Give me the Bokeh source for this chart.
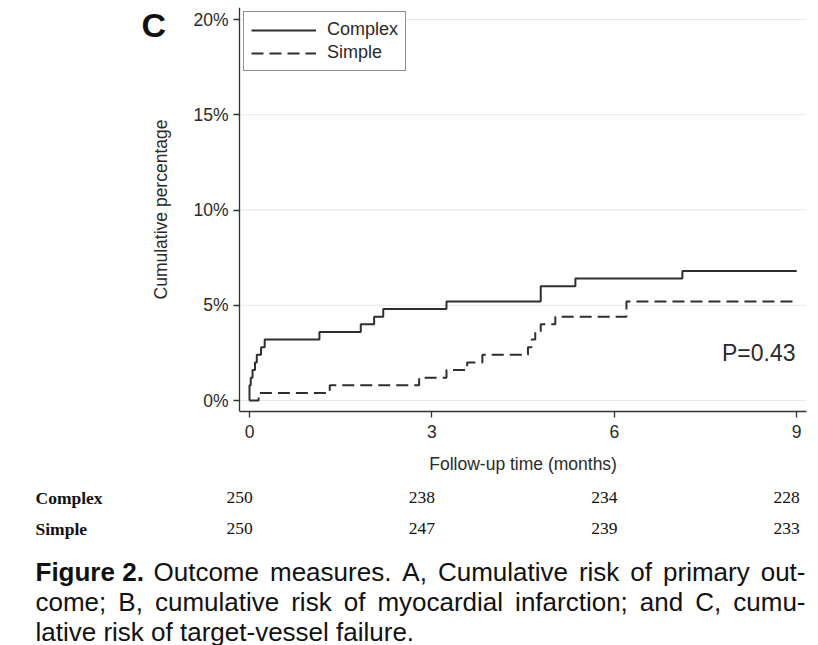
from bokeh.plotting import figure
from bokeh.models import Range1d, FixedTicker, Label, Legend, LegendItem, ColumnDataSource
from bokeh.layouts import column
from bokeh.embed import file_html
from bokeh.resources import INLINE
from bokeh.core.properties import value

# ---------------- data ----------------
complex_t = [0, 0, 0.02, 0.05, 0.09, 0.12, 0.19, 0.25, 1.15, 1.83, 2.05, 2.2, 3.24, 4.79, 5.36, 7.12, 9.0]
complex_y = [0, 0.8, 1.2, 1.6, 2.0, 2.4, 2.8, 3.2, 3.6, 4.0, 4.4, 4.8, 5.2, 6.0, 6.4, 6.8, 6.8]
simple_t = [0, 0.15, 1.32, 2.79, 3.24, 3.58, 3.83, 4.58, 4.64, 4.70, 4.79, 5.03, 6.2, 9.0]
simple_y = [0, 0.4, 0.8, 1.2, 1.6, 2.0, 2.4, 2.8, 3.2, 3.6, 4.0, 4.4, 5.2, 5.2]

x_ticks = [0, 3, 6, 9]
y_ticks = [0, 5, 10, 15, 20]
y_tick_labels = ["0%", "5%", "10%", "15%", "20%"]
x_title = "Follow-up time (months)"
y_title = "Cumulative percentage"

groups = ["Complex", "Simple"]
risk_times = [0, 3, 6, 9]
complex_at_risk = [250, 238, 234, 228]
simple_at_risk = [250, 247, 239, 233]

p_value_text = "P=0.43"
panel_letter = "C"
caption_bold = "Figure 2."
caption_lines = [
    "Outcome measures. A, Cumulative risk of primary out-",
    "come; B, cumulative risk of myocardial infarction; and C, cumu-",
    "lative risk of target-vessel failure.",
]

# ---------------- layout constants (page pixels) ----------------
W = 818
PX_PER_MONTH = 60.8
X0_PX = 249           # page pixel of month 0
PX_PER_PCT = 19.05
Y0_PX = 400           # page pixel of 0%
AXIS_L, FRAME_R, FRAME_T, FRAME_B = 239, 806, 7, 411
FRAME_L = 120         # frame starts left of the y axis so the panel letter fits inside it
H1 = 450

INK = "#2a2a2a"
SANS = "Liberation Sans"

x_start = (FRAME_L - X0_PX) / PX_PER_MONTH
x_axis_start = (AXIS_L - X0_PX) / PX_PER_MONTH
x_end = (FRAME_R - X0_PX) / PX_PER_MONTH
y_start = -(FRAME_B - Y0_PX) / PX_PER_PCT
y_end = (Y0_PX - FRAME_T) / PX_PER_PCT

p = figure(width=W, height=H1, x_range=Range1d(x_start, x_end), y_range=Range1d(y_start, y_end),
           output_backend="svg", toolbar_location=None,
           min_border_left=FRAME_L, min_border_right=W - FRAME_R,
           min_border_top=FRAME_T, min_border_bottom=H1 - FRAME_B)
p.frame_align = False
p.outline_line_color = None
p.background_fill_color = "white"
p.border_fill_color = "white"
p.grid.visible = False

# faint horizontal reference lines at the y ticks, from the y axis to the right edge
n = len(y_ticks)
p.segment(x0=[x_axis_start] * n, x1=[x_end] * n, y0=y_ticks, y1=y_ticks,
          line_color="#e9e9e9", line_width=1, level="underlay")

for ax in (p.xaxis[0], p.yaxis[0]):
    ax.axis_line_color = "#333333"
    ax.axis_line_width = 1.3
    ax.major_tick_line_color = "#333333"
    ax.major_tick_line_width = 1.3
    ax.major_tick_out = 6
    ax.major_tick_in = 0
    ax.minor_tick_line_color = None
    ax.major_label_text_font = SANS
    ax.major_label_text_font_size = "17.5px"
    ax.major_label_text_color = INK
    ax.axis_label_text_font = SANS
    ax.axis_label_text_font_style = "normal"
    ax.axis_label_text_font_size = "17.5px"
    ax.axis_label_text_color = INK

p.xaxis.ticker = FixedTicker(ticks=x_ticks)
p.xaxis.bounds = (x_axis_start, x_end)
p.yaxis.ticker = FixedTicker(ticks=y_ticks)
p.yaxis.fixed_location = x_axis_start
p.yaxis.major_label_overrides = {t: l for t, l in zip(y_ticks, y_tick_labels)}
p.yaxis.axis_label = y_title
p.xaxis.major_label_standoff = 7
p.yaxis.major_label_standoff = 5
p.yaxis.axis_label_standoff = 19

r1 = p.step(complex_t, complex_y, mode="after", line_color="#2e2e2e", line_width=2)
r2 = p.step(simple_t, simple_y, mode="after", line_color="#2e2e2e", line_width=2, line_dash="12 6")

legend = Legend(items=[LegendItem(label=groups[0], renderers=[r1]),
                       LegendItem(label=groups[1], renderers=[r2])],
                location=(243 - FRAME_L, 340))
legend.border_line_color = "#222222"
legend.border_line_width = 1
legend.background_fill_color = "white"
legend.background_fill_alpha = 1
legend.label_text_font = SANS
legend.label_text_font_size = "18px"
legend.label_text_color = INK
legend.glyph_width = 65
legend.glyph_height = 20
legend.label_height = 20
legend.label_standoff = 11
legend.padding = 7
legend.spacing = 2
legend.margin = 0
p.add_layout(legend)

p.add_layout(Label(x=8.98, y=2.5, text=p_value_text, text_align="right", text_baseline="middle",
                   text_font=SANS, text_font_size="23px", text_color=INK))
p.add_layout(Label(x=(141 - X0_PX) / PX_PER_MONTH, y=(Y0_PX - 24) / PX_PER_PCT, text=panel_letter,
                   text_align="left", text_baseline="middle", text_font=SANS,
                   text_font_style="bold", text_font_size="34px", text_color="#111111"))

# ---------------- x title + risk table (same month scale as the plot) ----------------
H2 = 98
p2 = figure(width=W, height=H2, x_range=Range1d(-X0_PX / PX_PER_MONTH, (W - X0_PX) / PX_PER_MONTH),
            y_range=Range1d(H2, 0), output_backend="svg", toolbar_location=None,
            x_axis_type=None, y_axis_type=None, min_border=0)
p2.frame_align = False
p2.outline_line_color = None
p2.grid.visible = False
# x-axis title centred on the plotted time span
p2.text(x=[(x_ticks[0] + x_ticks[-1]) / 2], y=[463 - H1], text=[x_title], text_align="center",
        text_baseline="middle", text_font=value(SANS), text_font_size="17.5px", text_color=INK)
row_y = [497 - H1, 528 - H1]
label_x = (35 - X0_PX) / PX_PER_MONTH
SERIF = "Liberation Serif"
p2.text(x=[label_x, label_x], y=row_y, text=groups, text_align="left", text_baseline="middle",
        text_font=value(SERIF), text_font_style="bold", text_font_size="17.5px", text_color="#111111")
for counts, yy in zip([complex_at_risk, simple_at_risk], row_y):
    src = ColumnDataSource(dict(x=risk_times, y=[yy] * len(risk_times), t=[str(c) for c in counts]))
    p2.text(x="x", y="y", text="t", source=src, x_offset=-10, text_align="center", text_baseline="middle",
            text_font=value(SERIF), text_font_size="17.5px", text_color="#111111")

# ---------------- caption (first two lines justified like the journal layout) ----------------
H3 = 645 - H1 - H2
p3 = figure(width=W, height=H3, x_range=Range1d(0, W), y_range=Range1d(H3, 0),
            output_backend="svg", toolbar_location=None, x_axis_type=None, y_axis_type=None, min_border=0)
p3.frame_align = False
p3.outline_line_color = None
p3.grid.visible = False
CAP_SIZE = 26
ADV = {"a": 556, "b": 556, "c": 500, "d": 556, "e": 556, "f": 278, "g": 556, "h": 556, "i": 222,
       "j": 222, "k": 500, "l": 222, "m": 833, "n": 556, "o": 556, "p": 556, "q": 556, "r": 333,
       "s": 500, "t": 278, "u": 556, "v": 500, "w": 722, "x": 500, "y": 500, "z": 500,
       "A": 667, "B": 667, "C": 722, "O": 778, ".": 278, ",": 278, ";": 278, "-": 333}


def text_width(s):
    return sum(ADV.get(ch, 556) for ch in s) * CAP_SIZE / 1000.0


line_y = [571 - H1 - H2, 601 - H1 - H2, 631 - H1 - H2]
line_x0 = [153, 35]
line_x1 = [805, 805]
wx, wy, wt = [], [], []
for txt, y0, x0, x1 in zip(caption_lines[:2], line_y[:2], line_x0, line_x1):
    words = txt.split(" ")
    widths = [text_width(w) for w in words]
    gap = (x1 - x0 - sum(widths)) / (len(words) - 1)
    x = x0
    for w, ww in zip(words, widths):
        wx.append(x)
        wy.append(y0)
        wt.append(w)
        x += ww + gap
wx.append(35)
wy.append(line_y[2])
wt.append(caption_lines[2])

p3.text(x=[35], y=[line_y[0]], text=[caption_bold], text_align="left", text_baseline="middle",
        text_font=value(SANS), text_font_style="bold", text_font_size=f"{CAP_SIZE}px", text_color="#111111")
p3.text(x=wx, y=wy, text=wt, text_align="left", text_baseline="middle",
        text_font=value(SANS), text_font_size=f"{CAP_SIZE}px", text_color="#111111")

layout = column(p, p2, p3, spacing=0)
open("out.html", "w").write(file_html(layout, INLINE))
